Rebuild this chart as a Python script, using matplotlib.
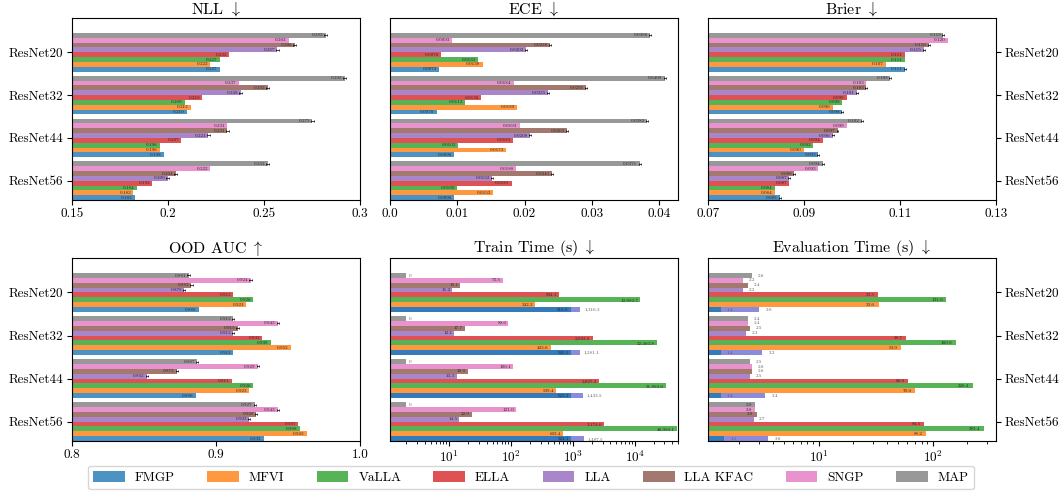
import numpy as np
import matplotlib
matplotlib.use("Agg")
import matplotlib.pyplot as plt
from matplotlib.patches import Patch

plt.rcParams["font.family"] = "serif"
plt.rcParams["font.serif"] = ["cmr10"]
plt.rcParams["mathtext.fontset"] = "cm"
plt.rcParams["axes.formatter.use_mathtext"] = True
plt.rcParams["axes.unicode_minus"] = False

models = ["ResNet20", "ResNet32", "ResNet44", "ResNet56"]
methods = ["FMGP", "MFVI", "VaLLA", "ELLA", "LLA", "LLA KFAC", "SNGP", "MAP"]
colors = ["#1f77b4", "#ff7f0e", "#2ca02c", "#d62728", "#9467bd", "#8c564b", "#e377c2", "#7f7f7f"]

# values per model, methods in the order above
nll = [[0.227, 0.222, 0.227, 0.232, 0.257, 0.266, 0.263, 0.282],
       [0.210, 0.212, 0.209, 0.218, 0.238, 0.252, 0.237, 0.292],
       [0.198, 0.196, 0.196, 0.207, 0.221, 0.231, 0.231, 0.275],
       [0.183, 0.182, 0.184, 0.192, 0.200, 0.204, 0.222, 0.252]]
ece = [[0.0073, 0.0138, 0.0131, 0.0076, 0.0202, 0.0238, 0.0093, 0.0386],
       [0.0070, 0.0189, 0.0112, 0.0136, 0.0235, 0.0291, 0.0184, 0.0408],
       [0.0096, 0.0173, 0.0102, 0.0183, 0.0208, 0.0263, 0.0193, 0.0382],
       [0.0096, 0.0153, 0.0100, 0.0181, 0.0152, 0.0241, 0.0188, 0.0371]]
brier = [[0.111, 0.107, 0.111, 0.111, 0.115, 0.116, 0.120, 0.119],
         [0.098, 0.096, 0.098, 0.099, 0.101, 0.103, 0.103, 0.108],
         [0.093, 0.090, 0.092, 0.094, 0.096, 0.097, 0.099, 0.102],
         [0.085, 0.084, 0.084, 0.087, 0.087, 0.088, 0.093, 0.094]]
ood = [[0.888, 0.921, 0.926, 0.912, 0.878, 0.883, 0.924, 0.881],
       [0.912, 0.952, 0.938, 0.932, 0.912, 0.915, 0.943, 0.912],
       [0.886, 0.923, 0.926, 0.911, 0.852, 0.873, 0.929, 0.887],
       [0.933, 0.963, 0.958, 0.957, 0.923, 0.928, 0.943, 0.927]]
train_time = [[916.9, 242.3, 12082.7, 594.1, 11.2, 15.1, 73.5, 2.0],
              [920.5, 433.6, 22463.8, 2063.8, 12.1, 17.7, 89.6, 2.0],
              [923.2, 539.4, 31863.6, 2627.2, 13.3, 20.0, 106.1, 2.0],
              [924.1, 692.4, 46956.1, 3174.6, 14.5, 22.9, 121.0, 2.0]]
train_total_fmgp = [1316.3, 1281.1, 1433.5, 1487.5]
map_train_label = "0"   # MAP is not trained further, the bar is only a stub
eval_time = [[1.4, 33.6, 131.6, 33.5, 2.2, 2.4, 2.2, 2.6],
             [1.4, 53.0, 160.8, 58.7, 2.3, 2.5, 2.4, 2.4],
             [1.4, 70.6, 226.4, 60.9, 2.5, 2.6, 2.6, 2.5],
             [1.5, 88.2, 283.4, 84.5, 2.7, 2.9, 2.8, 2.8]]
eval_total_fmgp = [3.0, 3.2, 3.4, 3.6]

# small spreads (same for every model)
nll_err = [0, 0, 0, 0, 0.0008, 0.0008, 0, 0.0008]
ece_err = [0, 0, 0, 0, 0.00015, 0.00015, 0, 0.00015]
brier_err = [0.0002, 0, 0, 0, 0.0002, 0.0002, 0, 0.0002]
ood_err = [0, 0, 0, 0, 0.0008, 0.0008, 0.0008, 0.0008]

fig = plt.figure(figsize=(10.62, 4.94), dpi=100)

W, H = 1062, 494
cols_x = [71.7, 389.7, 707.7]
ax_w = 288.5
rows_y = [(18, 200), (258, 441)]
TICK_FS = 9.5


def make_ax(r, c):
    top, bot = rows_y[r]
    return fig.add_axes([cols_x[c] / W, 1 - bot / H, ax_w / W, (bot - top) / H])


def draw(ax, vals, fmt, xlim, log=False, err=None, totals=None, title="", map_label=None):
    n = len(methods)
    h = 0.9 / n
    lo, hi = xlim
    if log:
        ax.set_xscale("log")
    left = 1e-3 if log else 0

    def frac(v):
        if log:
            return (np.log10(v) - np.log10(lo)) / (np.log10(hi) - np.log10(lo))
        return (v - lo) / (hi - lo)

    def put_label(v, y, txt):
        if frac(v) > 0.16:
            xt = v * 0.93 if log else v - (hi - lo) * 0.008
            ax.text(xt, y, txt, ha="right", va="center", fontsize=3.6, color="0.15")
        else:
            xt = v * 1.12 if log else v + (hi - lo) * 0.01
            ax.text(xt, y, txt, ha="left", va="center", fontsize=3.6, color="0.35")

    for j, row in enumerate(vals):
        for i, v in enumerate(row):
            y = j + (n / 2 - 0.5 - i) * h
            if totals is not None and i == 0:
                tot = totals[j]
                ax.barh(y, tot - left, left=left, height=h, color="#8b8bdc")
                ax.text(tot * 1.15, y, fmt(tot), ha="left", va="center",
                        fontsize=3.6, color="0.35")
            ax.barh(y, v - left, left=left, height=h, color=colors[i], alpha=0.8)
            if err is not None and err[i] > 0:
                ax.errorbar(v, y, xerr=err[i], fmt="none", ecolor="k",
                            elinewidth=0.5, capsize=0.5, capthick=0.5)
            txt = fmt(v)
            if map_label is not None and methods[i] == "MAP":
                txt = map_label
            put_label(v, y, txt)

    ax.set_xlim(lo, hi)
    ax.set_ylim(3 + 0.45, -0.8)
    ax.set_title(title, fontsize=11.5, pad=3)
    ax.tick_params(labelsize=TICK_FS, pad=2.5)


def fmt3(v):
    return f"{v:.3f}"


def fmt4(v):
    return f"{v:.4f}"


def fmt_t(v):
    return f"{v:,.1f}"


ax = make_ax(0, 0)
draw(ax, nll, fmt3, (0.15, 0.30), err=nll_err, title=r"NLL $\downarrow$")
ax.set_xticks([0.15, 0.2, 0.25, 0.3])
ax.set_xticklabels(["0.15", "0.2", "0.25", "0.3"])

ax = make_ax(0, 1)
draw(ax, ece, fmt4, (0.0, 0.0428), err=ece_err, title=r"ECE $\downarrow$")
ax.set_xticks([0, 0.01, 0.02, 0.03, 0.04])
ax.set_xticklabels(["0.0", "0.01", "0.02", "0.03", "0.04"])

ax = make_ax(0, 2)
draw(ax, brier, fmt3, (0.07, 0.13), err=brier_err, title=r"Brier $\downarrow$")
ax.set_xticks([0.07, 0.09, 0.11, 0.13])
ax.set_xticklabels(["0.07", "0.09", "0.11", "0.13"])

ax = make_ax(1, 0)
draw(ax, ood, fmt3, (0.8, 1.0), err=ood_err, title=r"OOD AUC $\uparrow$")
ax.set_xticks([0.8, 0.9, 1.0])
ax.set_xticklabels(["0.8", "0.9", "1.0"])

ax = make_ax(1, 1)
draw(ax, train_time, fmt_t, (1.09, 50000), log=True, totals=train_total_fmgp,
     title=r"Train Time (s) $\downarrow$", map_label=map_train_label)

ax = make_ax(1, 2)
draw(ax, eval_time, fmt_t, (1.07, 360), log=True, totals=eval_total_fmgp,
     title=r"Evaluation Time (s) $\downarrow$")

# y labels: left column on the left, right column on the right, middle none
for k, a in enumerate(fig.axes):
    a.set_yticks(range(len(models)))
    c = k % 3
    if c == 0:
        a.set_yticklabels(models)
    elif c == 2:
        a.yaxis.tick_right()
        a.set_yticklabels(models)
    else:
        a.set_yticks([])

handles = [Patch(facecolor=colors[i], alpha=0.8) for i in range(len(methods))]
fig.legend(handles, methods, loc="lower center", bbox_to_anchor=(0.5, -0.004), ncol=8,
           fontsize=9.5, handlelength=2.4, handleheight=0.9, handletextpad=0.75,
           columnspacing=2.45, borderpad=0.4)

fig.savefig("out.png", dpi=100)
